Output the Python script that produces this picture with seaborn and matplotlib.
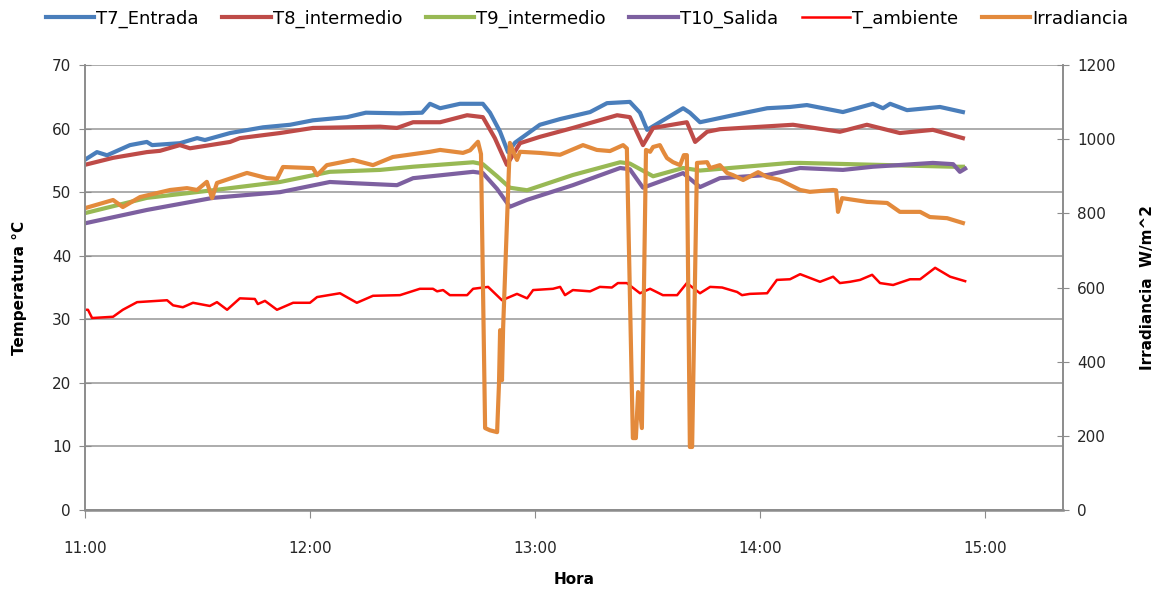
import seaborn as sns
import matplotlib.pyplot as plt
from matplotlib.ticker import FuncFormatter, MultipleLocator

# Minutos desde las 11:00 y valores
t7_min = [0, 3.2, 5.9, 12, 16.5, 17.9, 25.3, 29.9, 32, 38.7, 47.5, 54.7, 60.8, 69.9, 74.9, 84,
          89.9, 92, 94.7, 100, 106.1, 108, 110.7, 112.8, 114.7, 121.3, 126.7, 134.7, 139.2,
          145.3, 148, 149.9, 154.7, 159.5, 161.3, 164, 172.8, 181.9, 188, 192.5, 202.1, 210.1,
          212.8, 214.7, 219.2, 228, 234.1]
t7_val = [55.1, 56.3, 55.8, 57.4, 57.9, 57.4, 57.7, 58.5, 58.2, 59.3, 60.2, 60.6, 61.3, 61.8,
          62.5, 62.4, 62.5, 63.9, 63.2, 63.9, 63.9, 62.5, 59.5, 56.3, 57.8, 60.6, 61.5, 62.6,
          64.0, 64.2, 62.5, 59.8, 61.5, 63.2, 62.5, 61.0, 62.1, 63.2, 63.4, 63.7, 62.6, 63.9,
          63.2, 63.9, 62.9, 63.4, 62.6]

t8_min = [0, 7.5, 16.5, 20, 25.3, 28, 38.7, 41.3, 52, 60.8, 69.9, 78.7, 83.2, 87.5, 94.7,
          101.9, 106.1, 109.3, 112.5, 116, 121.3, 130.1, 141.9, 145.3, 148.8, 151.5, 160.5,
          162.7, 165.9, 169.3, 188.8, 201.3, 208.5, 217.3, 226.1, 234.1]
t8_val = [54.3, 55.4, 56.3, 56.5, 57.4, 56.9, 57.9, 58.5, 59.3, 60.1, 60.2, 60.3, 60.1, 61.0,
          61.0, 62.1, 61.8, 58.5, 54.3, 57.7, 58.7, 60.1, 62.1, 61.8, 57.4, 60.1, 61.0, 57.9,
          59.5, 59.9, 60.6, 59.5, 60.6, 59.3, 59.8, 58.5]

t9_min = [0, 16.5, 34.1, 52, 65.3, 78.7, 87.5, 103.5, 106.1, 109.9, 113.3, 117.9, 130.1,
          142.7, 145.3, 151.5, 159.5, 164, 188, 190.7, 231.5, 234.1]
t9_val = [46.7, 49.1, 50.3, 51.6, 53.2, 53.5, 54.0, 54.7, 54.4, 52.5, 50.7, 50.3, 52.7, 54.7,
          54.5, 52.5, 53.8, 53.4, 54.6, 54.6, 54.0, 54.0]

t10_min = [0, 16.5, 34.1, 52, 65.3, 72, 83.2, 87.5, 103.5, 106.1, 109.9, 113.3, 117.9, 130.1,
           142.7, 145.3, 148.8, 159.5, 164, 169.3, 181.9, 190.7, 202.1, 210.1, 226.1, 231.5,
           233.3, 234.7]
t10_val = [45.1, 47.2, 49.1, 50.0, 51.6, 51.4, 51.1, 52.2, 53.2, 53.0, 50.5, 47.7, 48.8, 51.1,
           53.8, 53.6, 50.7, 53.0, 50.8, 52.2, 52.7, 53.8, 53.5, 54.0, 54.6, 54.4, 53.2, 53.7]

tamb_min = [0, 0.8, 1.9, 7.5, 10.1, 13.9, 21.9, 23.5, 26.1, 28.8, 33.3, 35.2, 37.9, 41.3, 45.3,
            46.1, 48, 51.2, 55.5, 60, 61.9, 68, 72.5, 76.8, 84, 89.3, 92.8, 93.9, 95.5, 97.3,
            101.9, 103.5, 107.5, 111.2, 115.2, 117.9, 119.5, 124.8, 126.7, 128, 130.1, 134.7,
            137.3, 140.5, 142.1, 144.5, 148, 150.7, 154.1, 157.9, 160.5, 164, 166.7, 169.9,
            173.9, 175.2, 177.3, 181.9, 184.5, 188, 190.7, 196, 199.5, 201.3, 204, 206.7,
            209.9, 212, 215.5, 220, 222.7, 226.7, 230.7, 234.7]
tamb_val = [31.5, 31.5, 30.2, 30.4, 31.5, 32.7, 33.0, 32.2, 31.9, 32.6, 32.1, 32.7, 31.5, 33.3,
            33.2, 32.4, 32.9, 31.5, 32.6, 32.6, 33.5, 34.1, 32.6, 33.7, 33.8, 34.8, 34.8, 34.4,
            34.6, 33.8, 33.8, 34.8, 35.1, 33.0, 34.0, 33.3, 34.6, 34.8, 35.1, 33.8, 34.6, 34.4,
            35.1, 35.0, 35.7, 35.7, 34.1, 34.8, 33.8, 33.8, 35.7, 34.1, 35.1, 35.0, 34.3, 33.8,
            34.0, 34.1, 36.2, 36.3, 37.1, 35.9, 36.7, 35.7, 35.9, 36.2, 37.0, 35.7, 35.4, 36.3,
            36.3, 38.1, 36.7, 36.0]

irr_min = [0, 7.5, 10.1, 14.7, 22.7, 27.2, 29.9, 32.5, 33.9, 35.2, 43.2, 48.5, 51.2, 52.8,
           60.8, 61.9, 64.5, 71.5, 76.8, 82.1, 92, 94.7, 100.8, 102.7, 104.8, 105.6, 106.7,
           108, 109.9, 110.4, 110.7, 111.2, 111.5, 113.3, 114.7, 115.2, 116, 121.3, 126.7,
           132.8, 136.5, 140, 143.5, 144.5, 146.1, 146.9, 147.5, 148.5, 149.6, 150.7, 151.5,
           153.3, 154.4, 155.2, 156.8, 158.7, 159.7, 160.5, 161.3, 161.9, 163.2, 165.9, 166.7,
           169.3, 171.2, 172.8, 175.5, 179.5, 181.9, 185.3, 190.7, 193.3, 199.5, 200.3, 200.8,
           201.9, 208.5, 213.9, 217.3, 222.7, 225.3, 229.9, 234.1]
irr_val = [814, 836, 817, 844, 863, 868, 863, 885, 841, 882, 909, 895, 893, 925, 922, 903, 930,
           944, 930, 952, 966, 971, 963, 970, 993, 960, 221, 215, 210, 340, 485, 350, 490, 990,
           955, 944, 966, 963, 958, 984, 971, 968, 984, 975, 194, 194, 318, 221, 971, 966, 979,
           984, 963, 949, 938, 930, 957, 957, 170, 170, 936, 938, 922, 930, 909, 903, 890, 911,
           898, 890, 863, 858, 863, 862, 804, 841, 831, 828, 804, 804, 790, 787, 774]

temp_series = [
    ("T7_Entrada", t7_min, t7_val, "#4A7EBB"),
    ("T8_intermedio", t8_min, t8_val, "#BE4B48"),
    ("T9_intermedio", t9_min, t9_val, "#98B954"),
    ("T10_Salida", t10_min, t10_val, "#7D60A0"),
]

plt.rcParams["font.family"] = ["DejaVu Sans"]
fig, ax = plt.subplots(figsize=(11.67, 5.91), dpi=100)
fig.subplots_adjust(left=0.0728, right=0.9109, top=0.890, bottom=0.137)
ax2 = ax.twinx()

for name, t, v, c in temp_series:
    sns.lineplot(x=t, y=v, ax=ax, color=c, linewidth=3.0, label=name, legend=False)
sns.lineplot(x=tamb_min, y=tamb_val, ax=ax, color="#FF0000", linewidth=1.8,
             label="T_ambiente", legend=False)
sns.lineplot(x=irr_min, y=irr_val, ax=ax2, color="#E38A3C", linewidth=3.0,
             label="Irradiancia", legend=False)

gris = "#8C8C8C"
ax.set_xlim(0, 260.8)
ax.set_ylim(0, 70)
ax2.set_ylim(0, 1200)
ax.yaxis.set_major_locator(MultipleLocator(10))
ax2.yaxis.set_major_locator(MultipleLocator(200))
ax.xaxis.set_major_locator(MultipleLocator(60))
ax.xaxis.set_major_formatter(FuncFormatter(lambda m, p: f"{11 + int(m // 60)}:00"))

ax.grid(axis="y", color="#A6A6A6", linewidth=1.3)
ax.set_axisbelow(True)
for a in (ax, ax2):
    a.spines["top"].set_visible(False)
    for s in ("left", "right", "bottom"):
        a.spines[s].set_color(gris)
        a.spines[s].set_linewidth(1.2)
ax.spines["bottom"].set_linewidth(1.8)

ax.tick_params(axis="y", direction="inout", length=8, color=gris, labelsize=11,
               labelcolor="#262626", pad=6)
ax2.tick_params(axis="y", direction="inout", length=8, color=gris, labelsize=11,
                labelcolor="#262626", pad=6)
ax.tick_params(axis="x", direction="out", length=6, color=gris, labelsize=11,
               labelcolor="#262626", pad=16)

ax.set_xlabel("Hora", fontsize=11, fontweight="bold", labelpad=12)
ax.set_ylabel("Temperatura °C", fontsize=11, fontweight="bold", labelpad=18)
ax2.set_ylabel("Irradiancia  W/m^2", fontsize=11, fontweight="bold", labelpad=18)

h1, l1 = ax.get_legend_handles_labels()
h2, l2 = ax2.get_legend_handles_labels()
fig.legend(h1 + h2, l1 + l2, loc="center", bbox_to_anchor=(0.503, 0.968), ncol=6,
           frameon=False, fontsize=13, handlelength=2.7, handletextpad=0.1,
           columnspacing=1.3)

plt.savefig("out.png", dpi=100)
